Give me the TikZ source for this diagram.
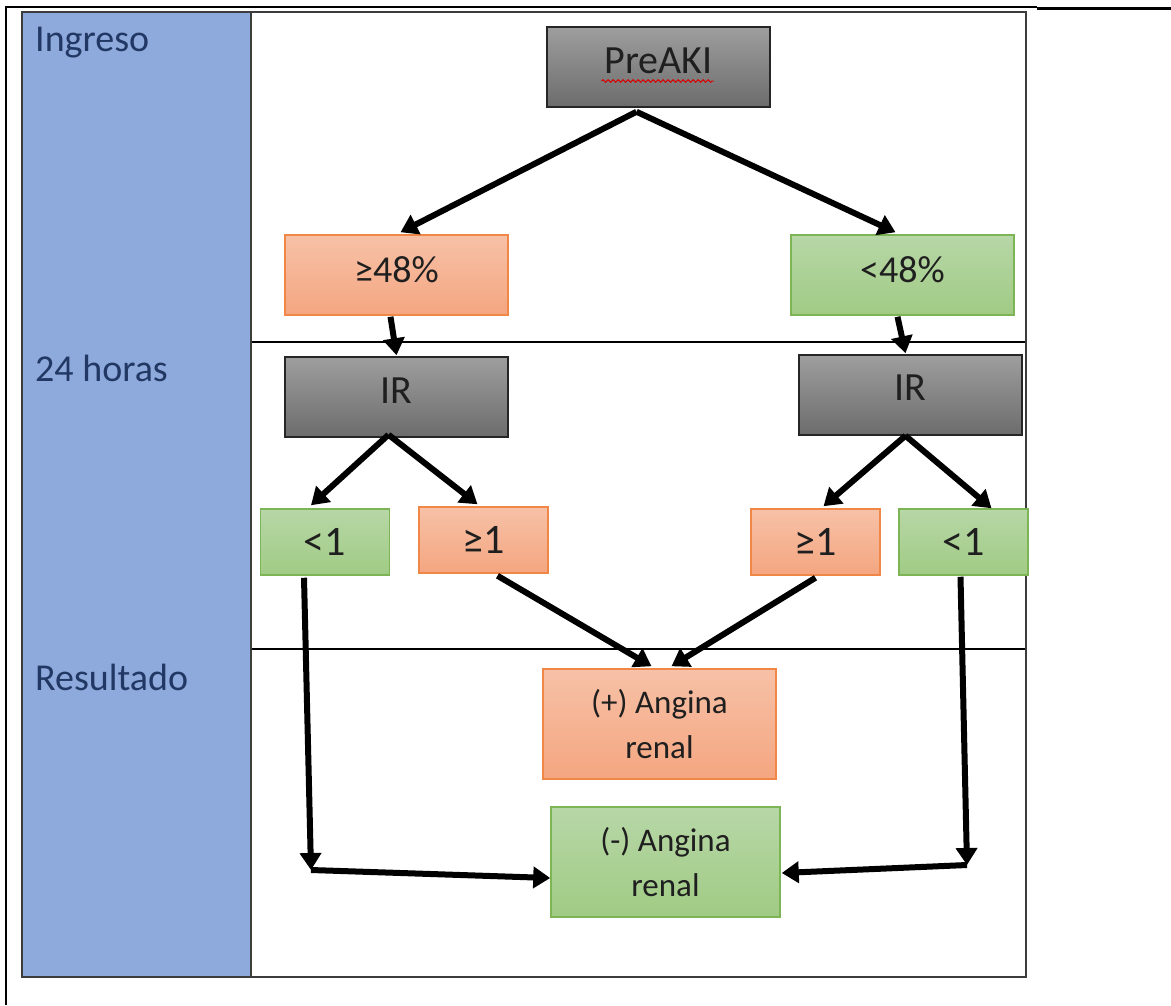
\documentclass[tikz,border=0pt]{standalone}
\usepackage{fontspec}
\setmainfont{Carlito}
\usetikzlibrary{arrows.meta,calc,decorations.pathmorphing}
\definecolor{colblue}{RGB}{142,169,219}
\definecolor{lbltext}{RGB}{34,56,100}
\definecolor{orT}{RGB}{247,193,167}
\definecolor{orB}{RGB}{244,166,128}
\definecolor{orD}{RGB}{240,135,70}
\definecolor{grT}{RGB}{183,215,167}
\definecolor{grB}{RGB}{160,203,132}
\definecolor{grD}{RGB}{125,180,85}
\definecolor{gyT}{RGB}{158,158,158}
\definecolor{gyB}{RGB}{108,108,108}
\definecolor{frame}{RGB}{60,60,60}
\begin{document}
\begin{tikzpicture}[x=1pt,y=-1pt,
  box/.style={draw, line width=1.5pt, inner sep=0pt, minimum width=223pt, minimum height=80pt, text=black!88},
  obox/.style={box, draw=orD, top color=orT, bottom color=orB},
  grbox/.style={box, draw=grD, top color=grT, bottom color=grB},
  gybox/.style={box, draw=black!85, top color=gyT, bottom color=gyB},
  smallbox/.style={minimum width=129pt, minimum height=66pt, font=\fontsize{42}{50}\selectfont, text depth=0pt},
  bigbox/.style={minimum height=110pt, align=center, font=\fontsize{33}{45}\selectfont},
  lbl/.style={anchor=base west, inner sep=0pt, text=lbltext, font=\fontsize{38}{46}\selectfont},
  arr/.style={line width=6pt, -{Triangle[length=17pt,width=21pt]}}
]
\useasboundingbox (0,0) rectangle (1171,1005);
% page lines
\draw[line width=1.5pt] (7,7) -- (1037,7);
\draw[line width=3pt] (1037,8) -- (1171,8);
\draw[line width=2.5pt] (6,6) -- (6,1005);
% table
\fill[colblue] (22,12) rectangle (251,977);
\draw[black, line width=1.2pt] (251,342) -- (1026,342);
\draw[black, line width=1.2pt] (251,649) -- (1026,649);
\draw[frame, line width=2pt] (251,12) -- (251,977);
\draw[frame, line width=2.5pt] (22,12) rectangle (1026,977);
% column labels
\node[lbl] (ing) at (35,51) {Ingreso};
\node[lbl] (h24) at (35,381) {24 horas};
\node[lbl] (res) at (35,690) {Resultado};
% boxes
\node[gybox, font=\fontsize{40}{48}\selectfont, text depth=12pt] (pre) at (658.5,67) {PreAKI};
\node[obox, font=\fontsize{38}{45}\selectfont, text depth=10pt] (ge48) at (396.5,275) {≥48\%};
\node[grbox, font=\fontsize{38}{45}\selectfont, text depth=10pt] (lt48) at (902.5,275) {<48\%};
\node[gybox, font=\fontsize{40}{48}\selectfont, text depth=12pt] (irl) at (396.5,397) {IR};
\node[gybox, font=\fontsize{40}{48}\selectfont, text depth=15pt] (irr) at (910.5,395) {IR};
\node[grbox, smallbox] (lt1l) at (325,542) {<1};
\node[obox, smallbox] (ge1l) at (483.5,540) {≥1};
\node[obox, smallbox] (ge1r) at (815.5,542) {≥1};
\node[grbox, smallbox] (lt1r) at (963.5,542) {<1};
\node[obox, bigbox, minimum width=233pt] (pos) at (659.5,724) {(+) Angina\\renal};
\node[grbox, bigbox, minimum width=229pt] (neg) at (665.5,862) {(-) Angina\\renal};
% spelling squiggle
\draw[red!85!black, line width=1pt, decorate, decoration={snake, amplitude=1.3pt, segment length=5pt}]
  ($(pre.center)+(-57,14)$) -- ($(pre.center)+(55,14)$);
% corner coordinates
\coordinate (cl) at (311,870);
\coordinate (cr) at (967,865);
% connectors
\draw[arr] ($(pre.south)+(-22,4)$) -- ($(ge48.north)+(4,-2)$);
\draw[arr] ($(pre.south)+(-22,4)$) -- ($(lt48.north)+(-7,-2)$);
\draw[arr] ($(ge48.south)+(-6,1)$) -- ($(irl.north)+(0,-1)$);
\draw[arr] ($(lt48.south)+(-5,1)$) -- ($(irr.north)+(-5,-1)$);
\draw[arr] ($(irl.south)+(-8,-3)$) -- ($(lt1l.north)+(-14,-3)$);
\draw[arr] ($(irl.south)+(-8,-3)$) -- ($(ge1l.north)+(-6,-2)$);
\draw[arr] ($(irr.south)+(-5,0)$) -- ($(ge1r.north)+(8,-2)$);
\draw[arr] ($(irr.south)+(-5,0)$) -- ($(lt1r.north)+(28,0)$);
\draw[arr] ($(ge1l.south)+(14,2)$) -- ($(pos.north)+(-8,-2)$);
\draw[arr] ($(ge1r.south)+(0,2)$) -- ($(pos.north)+(12,-2)$);
\draw[arr] ($(lt1l.south)+(-21,2)$) -- (cl);
\draw[arr] (cl) -- ($(neg.west)+(0,16)$);
\draw[arr] ($(lt1r.south)+(-3,1)$) -- (cr);
\draw[arr] (cr) -- ($(neg.east)+(1,11)$);
\end{tikzpicture}
\end{document}
